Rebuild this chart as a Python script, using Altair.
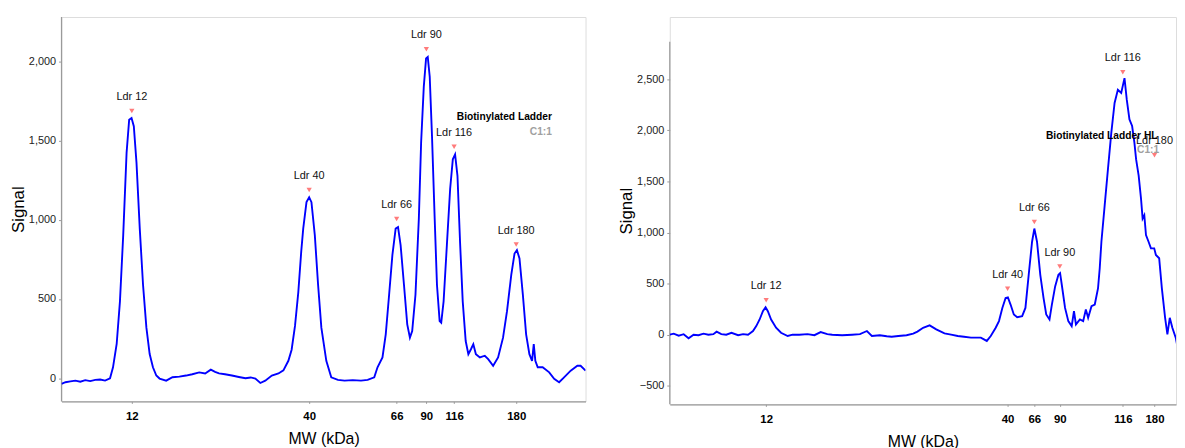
import altair as alt
import pandas as pd

# ---------------- data ----------------
# Left panel: "Biotinylated Ladder"  (position along the separation axis, signal)
left_pos = [0, 4, 9, 14, 19, 24, 29, 34, 39, 44, 49, 52, 55.7, 59, 62.3, 65.7, 68.3, 70.7, 73, 75.7,
            79, 82.3, 85.7, 89, 92.3, 95.7, 99, 105.7, 112, 119, 125.7, 132, 139, 145, 150.7, 155, 159,
            165, 172, 179, 185.7, 191, 195.7, 200.7, 205.7, 212.3, 219, 224, 229, 232.3, 235.7, 239, 242,
            244, 247.3, 250, 252.3, 255.7, 259, 262.3, 267.3, 272.3, 279, 285.7, 294, 302.3, 309, 315.7,
            319, 324, 327.3, 330.7, 334, 337.3, 339.7, 342.3, 345.7, 349, 351.7, 354, 357.3, 360.7, 363,
            365.7, 368, 369.7, 371.7, 374, 376.7, 379, 381.7, 383.3, 385.7, 389, 392.3, 395, 397.3, 399.7,
            402.3, 405, 408, 410.7, 413.3, 415.7, 418.3, 422.3, 427.3, 430.7, 435.7, 440.7, 445.7, 449.7,
            454, 457.3, 459.7, 462.3, 465.7, 469, 472.3, 475, 476.7, 478.3, 480.7, 485.7, 492.3, 497.3,
            502.3, 507.3, 514, 520.7, 524, 529]
left_signal = [-35, -25, -20, -15, -22, -12, -18, -10, -8, -15, 0, 69, 216, 485, 903, 1423, 1631, 1642,
               1590, 1360, 944, 590, 319, 153, 69, 17, -2, -15, 6, 10, 17, 25, 37, 30, 54, 40, 31, 25, 17,
               8, 0, 5, -2, -30, -15, 17, 30, 50, 110, 180, 330, 540, 800, 944, 1111, 1142, 1111, 903,
               590, 319, 110, 6, -10, -15, -12, -15, -10, 6, 69, 131, 277, 527, 777, 944, 954, 840, 590,
               340, 256, 298, 527, 1006, 1486, 1840, 2017, 2027, 1902, 1527, 1006, 590, 360, 350, 485,
               840, 1194, 1381, 1412, 1277, 860, 485, 235, 152, 183, 215, 152, 131, 142, 121, 79, 131,
               256, 423, 652, 787, 808, 756, 527, 277, 152, 110, 215, 110, 69, 69, 37, -4, -25, 6, 48,
               79, 79, 48]

# Right panel: "Biotinylated Ladder HL"
right_pos = [0, 4, 9, 14, 19, 24, 29, 34, 39, 44, 47.3, 52, 57, 62.3, 69, 74, 79, 84, 87.3, 90.7, 94,
             96.7, 99, 102.3, 107.3, 112.3, 119, 124, 130.7, 139, 146, 152.3, 159, 164, 174, 184, 192,
             199, 204, 212, 219, 224, 230.7, 239, 245.7, 250, 255.7, 262.3, 269, 277.3, 284, 290.7, 297,
             304, 314, 320, 324, 329, 332.3, 335.7, 339, 341.3, 344, 347.3, 350.7, 355.7, 359, 362.3,
             365.7, 368, 370.7, 374, 377.3, 380, 383.3, 385.7, 389, 392.3, 394, 395.7, 399, 402.3, 405.7,
             408, 410, 414, 417.3, 420, 422.3, 425.7, 429, 432.3, 434, 435.7, 439, 442.3, 445.7, 449,
             452.3, 455.7, 459, 461.3, 464, 466.7, 469, 470.7, 473.3, 475.7, 477.3, 479, 480.7, 483.3,
             485.7, 489, 490.7, 494, 496.7, 500, 502.3, 504.7, 507.3, 510.7, 513.3, 517.3]
right_signal = [0, 10, -10, 5, -35, 0, -5, 10, 0, 5, 29, 5, 0, 19, -5, 5, 0, 36, 84, 149, 230, 269, 230,
                149, 68, 19, -13, 0, 0, 5, -5, 26, 5, 0, -5, 0, 5, 36, -13, -5, -15, -20, -13, -5, 10,
                30, 68, 91, 52, 13, 0, -13, -20, -29, -29, -61, -13, 68, 133, 262, 359, 366, 295, 198,
                172, 181, 262, 586, 910, 1039, 910, 586, 359, 198, 149, 295, 473, 586, 602, 489, 262,
                133, 84, 230, 101, 149, 133, 246, 165, 279, 295, 456, 650, 910, 1266, 1621, 1978, 2269,
                2398, 2366, 2512, 2301, 2107, 2043, 1880, 1718, 1557, 1330, 1136, 1169, 975, 910, 845,
                845, 781, 748, 456, 165, 4, 165, 68, -29, -158, -255]

ladder_mw = ["12", "40", "66", "90", "116", "180"]
ladder_labels = ["Ldr 12", "Ldr 40", "Ldr 66", "Ldr 90", "Ldr 116", "Ldr 180"]
left_ladder_pos = [71, 250, 338.3, 368.3, 396.3, 459]
left_ladder_signal = [1686, 1188, 1004, 2075, 1461, 844]
right_ladder_pos = [97.3, 341, 368, 393.7, 457.3, 489.3]
right_ladder_signal = [337, 450, 1104, 667, 2570, 1757]

left_yticks = [0, 500, 1000, 1500, 2000]
right_yticks = [-500, 0, 500, 1000, 1500, 2000, 2500]

left_sample = "Biotinylated Ladder"
right_sample = "Biotinylated Ladder HL"
capillary = "C1:1"

# ---------------- styling ----------------
LINE_BLUE = "#0000ff"
AXIS_GREY = "#9a9a9a"
MARK_PINK = "#ff7b7b"
FONT = "Liberation Sans"


def make_panel(pos, sig, lad_pos, lad_sig, width, height, xdom, ydom, yaxis_top, yticks,
               sample, sample_at, cap_at):
    trace = pd.DataFrame({"pos": pos, "signal": sig})
    ladder = pd.DataFrame({"pos": lad_pos, "signal": lad_sig, "label": ladder_labels})

    expr = " : ".join(f"datum.value == {p} ? '{m}'" for p, m in zip(lad_pos, ladder_mw)) + " : ''"

    xenc = alt.X("pos:Q",
                 scale=alt.Scale(domain=xdom, nice=False, zero=False),
                 axis=alt.Axis(values=lad_pos, labelExpr=expr, title="MW (kDa)",
                               grid=False, domainColor=AXIS_GREY, domainWidth=1.2,
                               tickColor=AXIS_GREY, tickSize=2, labelPadding=7,
                               labelFont=FONT, labelFontWeight="bold",
                               labelFontSize=11.5, labelColor="#000",
                               titleFont=FONT, titleFontSize=16,
                               titleFontWeight="normal", titleColor="#000", titlePadding=9))
    yscale = alt.Scale(domain=ydom, nice=False, zero=False)
    yenc = alt.Y("signal:Q", scale=yscale,
                 axis=alt.Axis(values=yticks, format=",d", title="Signal", grid=False,
                               domain=False, tickColor=AXIS_GREY, tickSize=3, labelPadding=3,
                               labelFont=FONT, labelFontSize=11, labelColor="#222",
                               titleFont=FONT, titleFontSize=17,
                               titleFontWeight="normal", titleColor="#000", titlePadding=1))

    line = alt.Chart(trace).mark_line(color=LINE_BLUE, strokeWidth=1.9, clip=True).encode(
        x=xenc, y=yenc)

    yaxis_line = alt.Chart(pd.DataFrame({"k": [0]})).mark_rule(
        color=AXIS_GREY, strokeWidth=1.2).encode(
        x=alt.datum(xdom[0]), y=alt.datum(ydom[0]), y2=alt.datum(yaxis_top))

    marks = alt.Chart(ladder).mark_point(shape="triangle-down", filled=True, size=28,
                                         color=MARK_PINK, opacity=1).encode(
        x="pos:Q", y="signal:Q")
    labels = alt.Chart(ladder).mark_text(font=FONT, fontSize=11, dy=-14,
                                         baseline="middle", color="#111").encode(
        x="pos:Q", y="signal:Q", text="label:N")

    title_txt = alt.Chart(pd.DataFrame({"t": [sample]})).mark_text(
        font=FONT, fontWeight="bold", fontSize=10.3, align="right",
        baseline="middle", color="#000").encode(
        x=alt.datum(sample_at[0]), y=alt.datum(sample_at[1]), text="t:N")
    cap_txt = alt.Chart(pd.DataFrame({"t": [capillary]})).mark_text(
        font=FONT, fontWeight="bold", fontSize=10.3, align="right",
        baseline="middle", color="#a0a0a0").encode(
        x=alt.datum(cap_at[0]), y=alt.datum(cap_at[1]), text="t:N")

    return alt.layer(yaxis_line, line, marks, labels, title_txt, cap_txt).properties(
        width=width, height=height)


left = make_panel(left_pos, left_signal, left_ladder_pos, left_ladder_signal,
                  width=529, height=388, xdom=[0, 529], ydom=[-146, 2279], yaxis_top=2279,
                  yticks=left_yticks, sample=left_sample,
                  sample_at=(495, 1648), cap_at=(495, 1554))

right = make_panel(right_pos, right_signal, right_ladder_pos, right_ladder_signal,
                   width=511, height=391, xdom=[0, 511], ydom=[-682, 3110], yaxis_top=2867,
                   yticks=right_yticks, sample=right_sample,
                   sample_at=(492.3, 1943), cap_at=(494, 1803))

chart = alt.hconcat(left, right, spacing=30).properties(
    padding={"left": 0, "top": 5, "right": 0, "bottom": 0}
).configure_view(stroke=None).configure(background="#ffffff")

chart.save("out.html", embed_options={"renderer": "svg", "actions": False})
